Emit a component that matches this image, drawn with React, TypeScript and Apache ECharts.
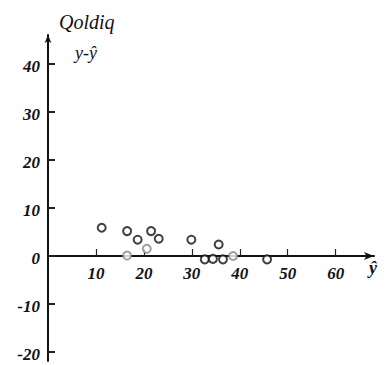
import React, { useEffect, useRef } from "react";
import * as echarts from "echarts";

const fittedX = [11.2, 16.5, 18.7, 21.5, 23.1, 29.9, 35.6, 32.7, 34.4, 36.5, 45.7];
const residualY = [5.8, 5.1, 3.3, 5.1, 3.5, 3.3, 2.3, -0.8, -0.7, -0.8, -0.8];
const faintX = [16.5, 20.6, 38.6];
const faintY = [0, 1.4, -0.1];
const xTicks = [10, 20, 30, 40, 50, 60];
const yTicks = [-20, -10, 0, 10, 20, 30, 40];

const FONT = "'Liberation Serif', 'DejaVu Serif', serif";

export default function App() {
  const ref = useRef<HTMLDivElement>(null);
  useEffect(() => {
    if (!ref.current) return;
    const chart = echarts.init(ref.current, undefined, { renderer: "svg" });
    const labelStyle = {
      fontFamily: FONT,
      fontStyle: "italic" as const,
      fontWeight: "bold" as const,
      fontSize: 17,
      color: "#111",
    };
    const yMin = -22;
    const yMax = 46;
    const gridTop = 35;
    const gridBottom = 4;
    const plotH = 365 - gridTop - gridBottom;
    const zeroOffset = -Math.round((plotH * (0 - yMin)) / (yMax - yMin));
    chart.setOption({
      animation: false,
      backgroundColor: "#ffffff",
      grid: { left: 48, right: 11, top: gridTop, bottom: gridBottom, outerBoundsMode: "none", containLabel: false },
      xAxis: {
        type: "value",
        min: 0,
        max: 68,
        offset: zeroOffset,
        axisLine: {
          onZero: false,
          lineStyle: { color: "#111", width: 2 },
          symbol: ["none", "arrow"],
          symbolSize: [6, 10],
        },
        axisTick: { show: true, inside: true, length: 7, customValues: xTicks, lineStyle: { color: "#222", width: 1.2 } },
        axisLabel: { ...labelStyle, customValues: xTicks, margin: 9 },
        splitLine: { show: false },
      },
      yAxis: {
        type: "value",
        min: yMin,
        max: yMax,
        axisLine: {
          show: true,
          onZero: false,
          lineStyle: { color: "#111", width: 2 },
          symbol: ["none", "arrow"],
          symbolSize: [5, 8],
        },
        axisTick: { show: true, inside: true, length: 7, customValues: yTicks, lineStyle: { color: "#222", width: 2 } },
        axisLabel: { ...labelStyle, customValues: yTicks, margin: 8, verticalAlign: "top", lineHeight: 6 },
        splitLine: { show: false },
      },
      graphic: [
        { type: "text", left: 59, top: 12, style: { text: "Qoldiq", font: `italic 20px ${FONT}`, fill: "#111" } },
        { type: "text", left: 75, top: 44, style: { text: "y-ŷ", font: `italic 18px ${FONT}`, fill: "#111" } },
        { type: "text", left: 369, top: 259, style: { text: "ŷ", font: `italic bold 18px ${FONT}`, fill: "#111" } },
      ],
      series: [
        {
          type: "scatter",
          symbol: "emptyCircle",
          symbolSize: 8,
          itemStyle: { color: "#111", borderWidth: 2 },
          data: fittedX.map((x, i) => [x, residualY[i]]),
        },
        {
          type: "scatter",
          symbol: "emptyCircle",
          symbolSize: 8,
          itemStyle: { color: "#888", borderWidth: 1.6 },
          data: faintX.map((x, i) => [x, faintY[i]]),
        },
      ],
    });
    return () => chart.dispose();
  }, []);
  return (
    <div
      ref={ref}
      style={{ position: "fixed", left: 0, top: 0, width: 385, height: 365, background: "#fff" }}
    />
  );
}
